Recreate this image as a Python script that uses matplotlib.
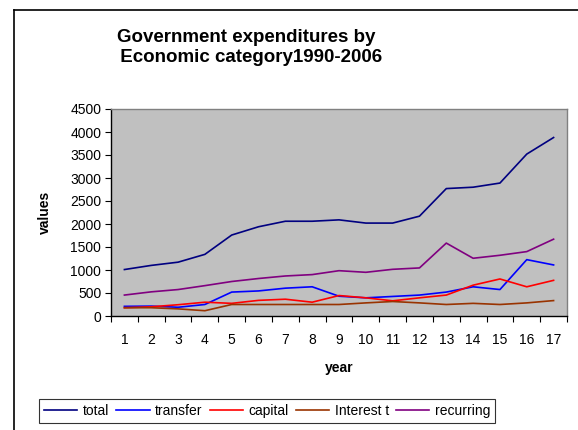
import matplotlib
matplotlib.use("Agg")
import matplotlib.pyplot as plt
from matplotlib.lines import Line2D

plt.rcParams['font.family'] = ['Liberation Sans', 'DejaVu Sans']

years = [str(i) for i in range(1, 18)]
total = [1010, 1100, 1170, 1340, 1760, 1940, 2060, 2060, 2090, 2020, 2020, 2170, 2770, 2800, 2890, 3520, 3880]
transfer = [210, 215, 190, 250, 520, 545, 605, 635, 430, 395, 425, 455, 520, 635, 575, 1225, 1110]
capital = [180, 200, 245, 300, 275, 340, 365, 300, 445, 395, 330, 395, 455, 670, 805, 635, 775]
interest = [180, 180, 155, 115, 250, 250, 250, 250, 250, 285, 315, 285, 250, 275, 250, 285, 335]
recurring = [455, 525, 575, 660, 750, 815, 870, 900, 985, 950, 1015, 1045, 1585, 1255, 1320, 1400, 1670]

series = [("total", total, "#000080"), ("transfer", transfer, "#0000FF"),
          ("capital", capital, "#FF0000"), ("Interest t", interest, "#993300"),
          ("recurring", recurring, "#800080")]

W, H = 578, 430
fig = plt.figure(figsize=(W / 100, H / 100), dpi=100)
fig.patch.set_facecolor("white")

# outer chart frame (extends beyond picture)
fig.add_artist(Line2D([14 / W, 14 / W], [0, 1 - 10 / H], color="black", lw=1.2, transform=fig.transFigure))
fig.add_artist(Line2D([14 / W, 1], [1 - 10 / H, 1 - 10 / H], color="black", lw=1.2, transform=fig.transFigure))

ax = fig.add_axes([111 / W, 1 - 316 / H, (567 - 111) / W, (316 - 109) / H])
ax.set_facecolor("#C0C0C0")
for s in ax.spines.values():
    s.set_color("#808080")
    s.set_linewidth(1.0)
ax.spines['left'].set_color("black")
ax.spines['bottom'].set_color("black")

xs = list(range(len(years)))
handles = []
for name, vals, col in series:
    h, = ax.plot(xs, vals, color=col, lw=1.2, label=name)
    handles.append(h)

ax.set_xlim(-0.5, len(years) - 0.5)
ax.set_ylim(0, 4500)
ax.set_yticks(range(0, 4501, 500))
ax.set_xticks(xs)
ax.set_xticklabels(years)
ax.set_xticks([x - 0.5 for x in range(len(years) + 1)], minor=True)
ax.tick_params(axis='x', which='major', length=0, labelsize=10, pad=12)
ax.tick_params(axis='x', which='minor', length=4, direction='out', width=0.8)
ax.tick_params(axis='y', length=4, direction='out', width=0.8, labelsize=10, pad=3)

ax.set_xlabel("year", fontsize=10, fontweight='bold', labelpad=10)
ax.set_ylabel("values", fontsize=10, fontweight='bold', labelpad=13)

fig.text(246 / W, 1 - 37 / H, "Government expenditures by", ha='center', va='center',
         fontsize=13.5, fontweight='bold')
fig.text(249 / W, 1 - 58 / H, " Economic category1990-2006", ha='center', va='center',
         fontsize=13.5, fontweight='bold')

leg = fig.legend(handles=handles, loc='center', bbox_to_anchor=(267 / W, 1 - 411 / H),
                 ncol=5, fontsize=10, frameon=True, fancybox=False, handlelength=2.4,
                 columnspacing=0.5, handletextpad=0.4, borderpad=0.35)
leg.get_frame().set_edgecolor("black")
leg.get_frame().set_linewidth(0.8)

fig.savefig("out.png", dpi=100)
